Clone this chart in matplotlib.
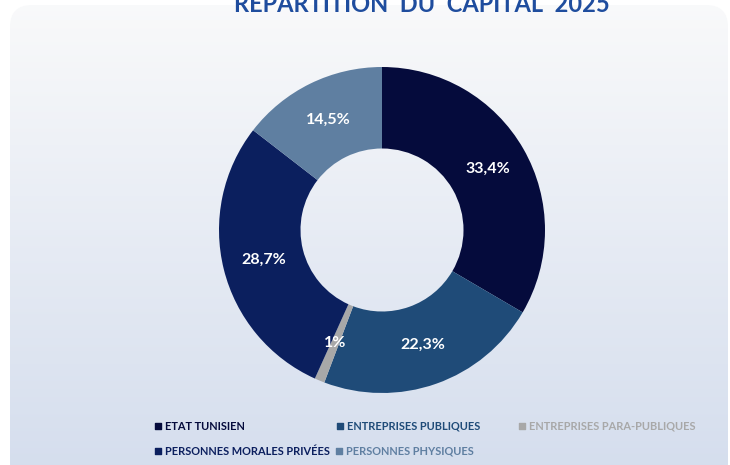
import numpy as np
import matplotlib
matplotlib.use("Agg")
import matplotlib.pyplot as plt
from matplotlib.patches import FancyBboxPatch

# data
categories = ["ETAT TUNISIEN", "ENTREPRISES PUBLIQUES", "ENTREPRISES PARA-PUBLIQUES",
              "PERSONNES MORALES PRIVÉES", "PERSONNES PHYSIQUES"]
shares = [33.4, 22.3, 1.0, 28.7, 14.5]
share_labels = ["33,4%", "22,3%", "1%", "28,7%", "14,5%"]
colors = ["#050b3c", "#1f4b78", "#a8a8a8", "#0b1f5e", "#5f7fa1"]
title = "REPARTITION  DU  CAPITAL  2025"

W, H = 730, 465
fig = plt.figure(figsize=(W / 100, H / 100), dpi=100)
fig.patch.set_facecolor("white")

# background panel with vertical gradient
bg = fig.add_axes([0, 0, 1, 1])
bg.set_xlim(0, W)
bg.set_ylim(H, 0)
bg.axis("off")
box = FancyBboxPatch((10, 5), 718, 480, boxstyle="round,pad=0,rounding_size=22",
                     facecolor="none", edgecolor="none")
bg.add_patch(box)
top = np.array([0.976, 0.978, 0.982])
bot = np.array([0.830, 0.866, 0.930])
t = np.linspace(0, 1, 256)[:, None]
grad = (top + (bot - top) * t)[:, None, :]
im = bg.imshow(grad, extent=(10, 728, 485, 5), aspect="auto", zorder=0)
im.set_clip_path(box)

bg.text(422, 5, title, ha="center", va="center", fontsize=17, fontweight="bold",
        color="#1f4d9e", family="Lato")

# donut
cx, cy, r = 382, 230, 163
ax = fig.add_axes([(cx - r) / W, 1 - (cy + r) / H, 2 * r / W, 2 * r / H])
ax.axis("off")
wedges, _ = ax.pie(shares, colors=colors, startangle=90, counterclock=False,
                   radius=1, wedgeprops=dict(width=0.5, linewidth=0))
ax.set_xlim(-1, 1)
ax.set_ylim(-1, 1)
for w, lab in zip(wedges, share_labels):
    ang = np.deg2rad((w.theta1 + w.theta2) / 2)
    ax.text(0.75 * np.cos(ang), 0.75 * np.sin(ang), lab, ha="center", va="center",
            color="white", fontsize=11.5, fontweight="bold", family="Lato")

# legend (flow layout)
legend_pos = [(155, 426), (337, 426), (519, 426), (155, 451), (336, 451)]
for (x, y), name, c in zip(legend_pos, categories, colors):
    bg.scatter([x + 3], [y], marker="s", s=18, color=c, zorder=3)
    bg.text(x + 10, y, name, ha="left", va="center", fontsize=7.9, fontweight="bold",
            color=c, family="Lato")

fig.savefig("out.png", dpi=100)
